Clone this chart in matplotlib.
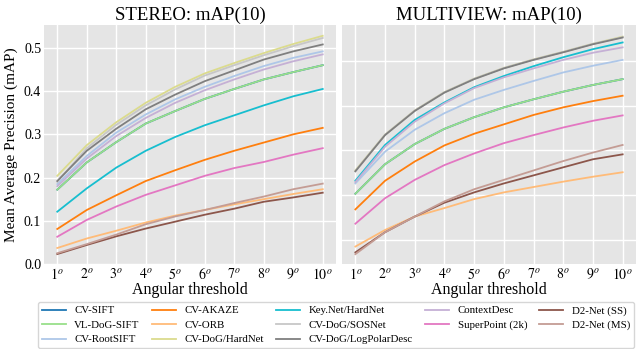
import matplotlib
matplotlib.use("Agg")
import matplotlib.pyplot as plt

plt.rcParams['font.family'] = ['Liberation Serif', 'DejaVu Serif']
plt.rcParams['mathtext.fontset'] = 'stix'

thresholds = [1, 2, 3, 4, 5, 6, 7, 8, 9, 10]
tick_labels = [r'$%d^o$' % t for t in thresholds]

methods = ['CV-SIFT', 'VL-DoG-SIFT', 'CV-RootSIFT', 'CV-AKAZE', 'CV-ORB',
           'CV-DoG/HardNet', 'Key.Net/HardNet', 'CV-DoG/SOSNet',
           'CV-DoG/LogPolarDesc', 'ContextDesc', 'SuperPoint (2k)',
           'D2-Net (SS)', 'D2-Net (MS)']
colors = ['#1f77b4', '#98df8a', '#aec7e8', '#ff7f0e', '#ffbb78', '#dbdb8d',
          '#17becf', '#c7c7c7', '#7f7f7f', '#c5b0d5', '#e377c2', '#8c564b',
          '#c49c94']

# mAP at each angular threshold, stereo task
stereo = {
    'CV-SIFT':             [0.172, 0.235, 0.282, 0.325, 0.354, 0.382, 0.405, 0.427, 0.444, 0.460],
    'VL-DoG-SIFT':         [0.172, 0.235, 0.282, 0.325, 0.354, 0.382, 0.405, 0.427, 0.444, 0.460],
    'CV-RootSIFT':         [0.185, 0.250, 0.304, 0.346, 0.381, 0.410, 0.435, 0.458, 0.477, 0.492],
    'CV-AKAZE':            [0.081, 0.125, 0.159, 0.192, 0.217, 0.241, 0.262, 0.281, 0.300, 0.315],
    'CV-ORB':              [0.037, 0.059, 0.077, 0.096, 0.112, 0.125, 0.138, 0.150, 0.162, 0.173],
    'CV-DoG/HardNet':      [0.204, 0.275, 0.328, 0.373, 0.410, 0.441, 0.465, 0.488, 0.509, 0.528],
    'Key.Net/HardNet':     [0.121, 0.175, 0.223, 0.262, 0.294, 0.321, 0.344, 0.367, 0.388, 0.405],
    'CV-DoG/SOSNet':       [0.190, 0.268, 0.322, 0.367, 0.404, 0.436, 0.460, 0.483, 0.504, 0.523],
    'CV-DoG/LogPolarDesc': [0.192, 0.262, 0.313, 0.358, 0.392, 0.423, 0.448, 0.473, 0.492, 0.508],
    'ContextDesc':         [0.180, 0.244, 0.296, 0.338, 0.373, 0.402, 0.427, 0.450, 0.469, 0.485],
    'SuperPoint (2k)':     [0.063, 0.102, 0.133, 0.160, 0.182, 0.204, 0.222, 0.236, 0.253, 0.268],
    'D2-Net (SS)':         [0.023, 0.044, 0.064, 0.082, 0.098, 0.114, 0.128, 0.144, 0.154, 0.165],
    'D2-Net (MS)':         [0.025, 0.046, 0.068, 0.092, 0.110, 0.125, 0.141, 0.156, 0.173, 0.186],
}

# mAP at each angular threshold, multiview task
multiview = {
    'CV-SIFT':             [0.203, 0.269, 0.314, 0.348, 0.374, 0.396, 0.414, 0.431, 0.446, 0.459],
    'VL-DoG-SIFT':         [0.203, 0.269, 0.314, 0.348, 0.374, 0.396, 0.414, 0.431, 0.446, 0.459],
    'CV-RootSIFT':         [0.226, 0.297, 0.346, 0.383, 0.413, 0.435, 0.455, 0.474, 0.489, 0.502],
    'CV-AKAZE':            [0.168, 0.232, 0.275, 0.311, 0.337, 0.358, 0.379, 0.396, 0.410, 0.422],
    'CV-ORB':              [0.085, 0.122, 0.152, 0.171, 0.191, 0.206, 0.218, 0.230, 0.241, 0.251],
    'CV-DoG/HardNet':      [0.255, 0.335, 0.389, 0.430, 0.460, 0.484, 0.503, 0.520, 0.538, 0.554],
    'Key.Net/HardNet':     [0.232, 0.312, 0.368, 0.407, 0.441, 0.466, 0.488, 0.508, 0.526, 0.541],
    'CV-DoG/SOSNet':       [0.254, 0.335, 0.389, 0.430, 0.460, 0.484, 0.503, 0.520, 0.538, 0.553],
    'CV-DoG/LogPolarDesc': [0.253, 0.334, 0.388, 0.429, 0.459, 0.483, 0.502, 0.519, 0.537, 0.552],
    'ContextDesc':         [0.229, 0.308, 0.364, 0.405, 0.439, 0.463, 0.483, 0.502, 0.518, 0.530],
    'SuperPoint (2k)':     [0.136, 0.193, 0.234, 0.267, 0.293, 0.316, 0.334, 0.351, 0.366, 0.378],
    'D2-Net (SS)':         [0.072, 0.117, 0.152, 0.183, 0.206, 0.226, 0.244, 0.262, 0.280, 0.291],
    'D2-Net (MS)':         [0.068, 0.117, 0.152, 0.186, 0.213, 0.234, 0.255, 0.276, 0.295, 0.312],
}

fig = plt.figure(figsize=(6.37, 3.49), dpi=100)
ax1 = fig.add_axes([44 / 637, 85 / 349, 292 / 637, 239 / 349])
ax2 = fig.add_axes([342 / 637, 85 / 349, 294 / 637, 239 / 349])

for ax, data, title in [(ax1, stereo, 'STEREO: mAP(10)'),
                        (ax2, multiview, 'MULTIVIEW: mAP(10)')]:
    ax.set_facecolor('#e5e5e5')
    for name, c in zip(methods, colors):
        ax.plot(thresholds, data[name], color=c, lw=1.3, label=name)
    ax.grid(True, color='white', lw=1.0)
    ax.set_axisbelow(True)
    for s in ax.spines.values():
        s.set_visible(False)
    ax.set_xticks(thresholds)
    ax.set_xticklabels(tick_labels)
    ax.tick_params(length=0, labelsize=10, pad=2)
    ax.set_title(title, fontsize=13.5, pad=4)
    ax.set_xlabel('Angular threshold', fontsize=11.5, labelpad=0)

ax1.set_ylim(0.0, 0.553)
ax1.set_ylabel('Mean Average Precision (mAP)', fontsize=11)
ax2.set_ylim(0.046, 0.58)
ax2.set_yticklabels([])

# legend spread across the full width below both panels
handles, labels = ax1.get_legend_handles_labels()
fig.legend(handles, labels, loc='upper left', mode='expand',
           bbox_to_anchor=(38 / 637, 0.0, 596 / 637, 47 / 349),
           ncol=5, fontsize=7.8, frameon=True, facecolor='white',
           edgecolor='#cccccc', handlelength=2.2, handletextpad=0.8,
           labelspacing=0.45, borderpad=0.35, borderaxespad=0.0)

fig.savefig('out.png', dpi=100)
